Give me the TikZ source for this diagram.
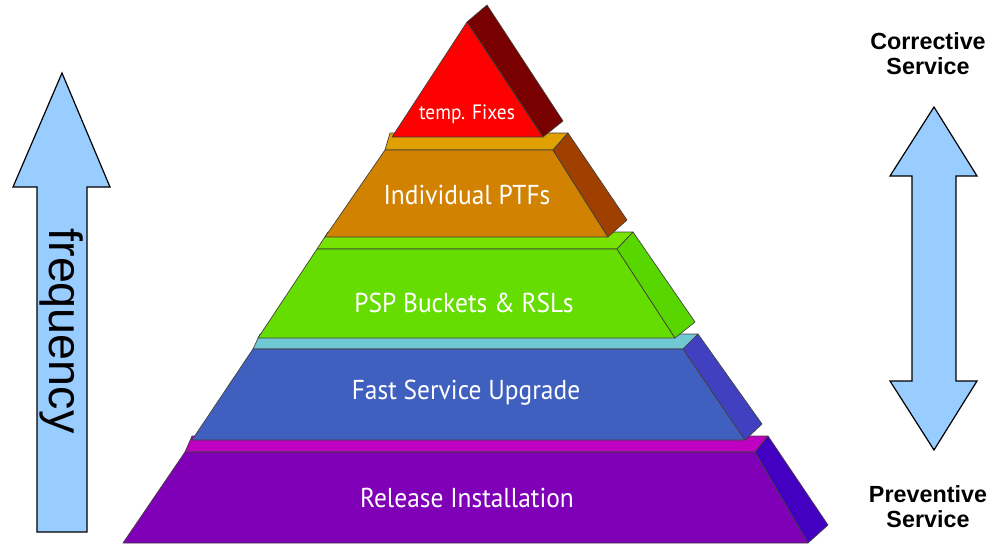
\documentclass[tikz,border=0pt]{standalone}
\usepackage{fontspec}
\newfontfamily\arialfont{Liberation Sans}
\newfontfamily\layerfont[FakeStretch=0.93]{PT Sans}
\definecolor{arrowblue}{RGB}{153,204,255}
\definecolor{redfront}{RGB}{255,0,0}
\definecolor{redside}{RGB}{120,0,0}
\definecolor{orangetop}{RGB}{224,160,0}
\definecolor{orangefront}{RGB}{208,130,0}
\definecolor{orangeside}{RGB}{160,64,0}
\definecolor{greentop}{RGB}{120,226,0}
\definecolor{greenfront}{RGB}{102,221,0}
\definecolor{greenside}{RGB}{88,214,0}
\definecolor{bluetop}{RGB}{112,200,212}
\definecolor{bluefront}{RGB}{64,96,192}
\definecolor{blueside}{RGB}{64,64,192}
\definecolor{purpletop}{RGB}{192,0,192}
\definecolor{purplefront}{RGB}{128,0,184}
\definecolor{purpleside}{RGB}{68,0,192}
\begin{document}
\begin{tikzpicture}[x=0.75pt,y=0.75pt,yscale=-1,xscale=1,
  face/.style={draw=black!75,line width=0.5pt,line join=round},
  bigarrow/.style={draw=black,line width=0.9pt,fill=arrowblue,line join=miter},
  layerlabel/.style={text=white,font=\layerfont\fontsize{20.5}{23}\selectfont,inner sep=0.75pt},
  sidelabel/.style={font=\arialfont\bfseries\fontsize{17.5}{18.8}\selectfont,align=center,inner sep=0.75pt}]
\path[use as bounding box] (0,0) rectangle (1001,546);

%Shape: Release layer
\draw [face,fill=purpletop] (185,452) -- (192,436) -- (768,436) -- (755,452) -- cycle ;
\draw [face,fill=purplefront] (185,452) -- (755,452) -- (808,543) -- (123,543) -- cycle ;
\draw [face,fill=purpleside] (755,452) -- (768,436) -- (828,525) -- (808,543) -- cycle ;
%Shape: Fast Service layer
\draw [face,fill=bluetop] (253,349) -- (260,334) -- (698,334) -- (683,349) -- cycle ;
\draw [face,fill=bluefront] (253,349) -- (683,349) -- (745,440) -- (192,440) -- cycle ;
\draw [face,fill=blueside] (683,349) -- (698,334) -- (762,424) -- (745,440) -- cycle ;
%Shape: PSP layer
\draw [face,fill=greentop] (317,249) -- (328,232) -- (633,232) -- (617,249) -- cycle ;
\draw [face,fill=greenfront] (317,249) -- (617,249) -- (675,338) -- (258,338) -- cycle ;
\draw [face,fill=greenside] (617,249) -- (633,232) -- (695,322) -- (675,338) -- cycle ;
%Shape: PTF layer
\draw [face,fill=orangetop] (385,150) -- (390,133) -- (568,133) -- (553,150) -- cycle ;
\draw [face,fill=orangefront] (385,150) -- (553,150) -- (608,237) -- (325,237) -- cycle ;
\draw [face,fill=orangeside] (553,150) -- (568,133) -- (627,220) -- (608,237) -- cycle ;
%Shape: top triangle
\draw [face,fill=redfront] (392,137) -- (467,22) -- (543,137) -- cycle ;
\draw [face,fill=redside] (467,22) -- (487,5) -- (563,121) -- (543,137) -- cycle ;

% Text Node
\node [layerlabel,font=\layerfont\fontsize{15.6}{18}\selectfont] (tempfix) at (467,114) {temp. Fixes};
\node [layerlabel] (ptf) at (467,195) {Individual PTFs};
\node [layerlabel] (psp) at (464,303) {PSP Buckets \& RSLs};
\node [layerlabel] (fsu) at (466,393) {Fast Service Upgrade};
\node [layerlabel] (release) at (467,498) {Release Installation};

%Shape: frequency arrow
\draw [bigarrow] (37,532) -- (37,187) -- (13,187) -- (62,73) -- (110,187) -- (87,187) -- (87,532) -- cycle ;
\node [font=\arialfont\fontsize{35}{40}\selectfont,rotate=-90,inner sep=0pt] (freq) at (62,331) {frequency};

%Shape: service arrow
\draw [bigarrow] (912,176) -- (890,176) -- (934,107) -- (977,176) -- (956,176) -- (956,381) -- (977,381) -- (934,450) -- (890,381) -- (912,381) -- cycle ;
\node [sidelabel] (corrective) at (928,54) {Corrective\\Service};
\node [sidelabel] (preventive) at (928,507) {Preventive\\Service};

\end{tikzpicture}
\end{document}
